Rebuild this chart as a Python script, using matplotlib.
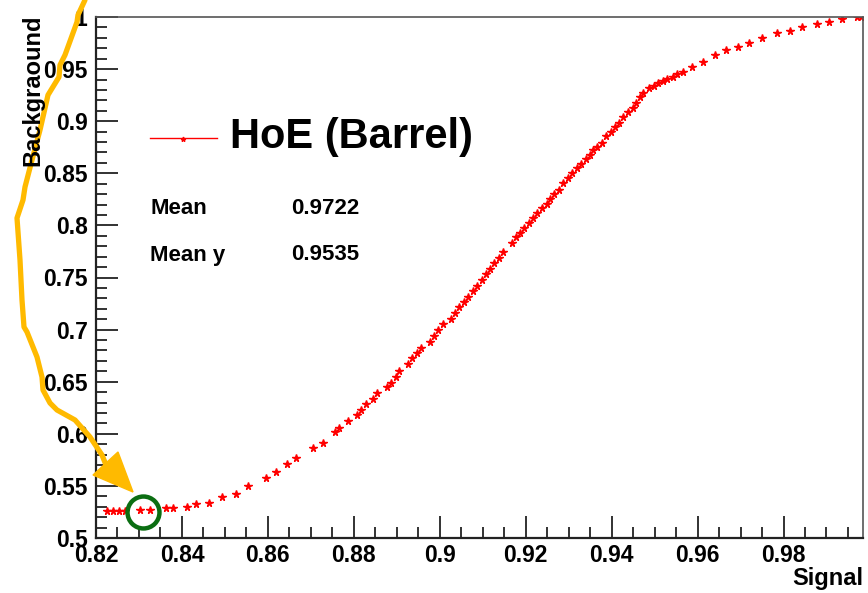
import numpy as np
import matplotlib
matplotlib.use("Agg")
import matplotlib.pyplot as plt
from matplotlib.ticker import MultipleLocator, FuncFormatter
from matplotlib.lines import Line2D
from matplotlib.patches import Polygon

signal = [0.8226, 0.8240, 0.8254, 0.8268, 0.8302, 0.8326, 0.8363, 0.8380,
          0.8412, 0.8433, 0.8463, 0.8493, 0.8525, 0.8553, 0.8595, 0.8620,
          0.8644, 0.8665, 0.8705, 0.8728, 0.8756, 0.8765, 0.8786, 0.8807,
          0.8816, 0.8828, 0.8844, 0.8854, 0.8877, 0.8886, 0.8898, 0.8905,
          0.8926, 0.8935, 0.8947, 0.8956, 0.8977, 0.8986, 0.8995, 0.9007,
          0.9026, 0.9035, 0.9044, 0.9056, 0.9065, 0.9077, 0.9086, 0.9098,
          0.9107, 0.9116, 0.9126, 0.9137, 0.9147, 0.9167, 0.9177, 0.9186,
          0.9195, 0.9207, 0.9216, 0.9226, 0.9237, 0.9249, 0.9256, 0.9267,
          0.9277, 0.9286, 0.9298, 0.9307, 0.9319, 0.9328, 0.9340, 0.9349,
          0.9356, 0.9367, 0.9377, 0.9388, 0.9398, 0.9407, 0.9416, 0.9426,
          0.9437, 0.9449, 0.9456, 0.9465, 0.9474, 0.9488, 0.9498, 0.9507,
          0.9519, 0.9530, 0.9542, 0.9551, 0.9565, 0.9588, 0.9612, 0.9640,
          0.9667, 0.9693, 0.9720, 0.9751, 0.9784, 0.9814, 0.9844, 0.9877,
          0.9907, 0.9937, 0.9970, 0.9980]
background = [0.526, 0.526, 0.526, 0.526, 0.527, 0.527, 0.529, 0.529,
              0.530, 0.5326, 0.5336, 0.539, 0.542, 0.550, 0.5576, 0.563,
              0.571, 0.5768, 0.5864, 0.591, 0.6017, 0.6056, 0.6123, 0.618,
              0.623, 0.6286, 0.6334, 0.639, 0.645, 0.6488, 0.6545, 0.660,
              0.667, 0.6727, 0.6775, 0.6823, 0.688, 0.6939, 0.6996, 0.7054,
              0.710, 0.716, 0.7217, 0.7265, 0.7313, 0.737, 0.7418, 0.7476,
              0.7534, 0.758, 0.764, 0.7687, 0.7745, 0.783, 0.789, 0.7927,
              0.7975, 0.8023, 0.807, 0.812, 0.8167, 0.8205, 0.8253, 0.830,
              0.834, 0.8407, 0.8455, 0.850, 0.855, 0.859, 0.8637, 0.8676,
              0.8724, 0.8752, 0.879, 0.8858, 0.890, 0.8944, 0.898, 0.904,
              0.9088, 0.9127, 0.9175, 0.9232, 0.927, 0.9318, 0.934, 0.9367,
              0.9386, 0.9405, 0.9424, 0.9453, 0.9472, 0.952, 0.9568, 0.9635,
              0.9683, 0.9712, 0.975, 0.980, 0.9846, 0.9866, 0.9904, 0.9933,
              0.9952, 0.998, 1.000, 1.000]

etiqueta = "HoE (Barrel)"
stats_nombres = ["Mean", "Mean y"]
stats_valores = ["0.9722", "0.9535"]
punto_marcado = (0.8309, 0.525)

W, H = 868, 593
fig = plt.figure(figsize=(W / 100, H / 100), dpi=100)
ax = fig.add_axes([96 / W, 1 - 538 / H, (863 - 96) / W, (538 - 17) / H])

def fx(px):
    return px / W

def fy(py):
    return 1 - py / H

fuente = ["Liberation Sans", "DejaVu Sans"]

ax.plot(signal, background, color="red", lw=0, marker="*", ms=5.5,
        markeredgewidth=1.0)
ax.set_xlim(0.82, 0.9985)
ax.set_ylim(0.5, 1.0)

ax.xaxis.set_major_locator(MultipleLocator(0.02))
ax.xaxis.set_minor_locator(MultipleLocator(0.005))
ax.yaxis.set_major_locator(MultipleLocator(0.05))
ax.yaxis.set_minor_locator(MultipleLocator(0.01))
fmt = FuncFormatter(lambda v, p: f"{v:.2f}".rstrip("0").rstrip(".") if v < 0.9999 else "1")
ax.xaxis.set_major_formatter(fmt)
ax.yaxis.set_major_formatter(fmt)
ax.tick_params(which="both", direction="in", top=False, right=False,
               width=1.3, color="#222222")
ax.tick_params(which="major", length=16)
ax.tick_params(which="minor", length=8)
ax.tick_params(axis="x", pad=4)
ax.tick_params(axis="y", pad=6)
for lab in ax.get_xticklabels() + ax.get_yticklabels():
    lab.set_fontfamily(fuente)
    lab.set_fontweight("bold")
    lab.set_fontsize(16.5)

for s in ["top", "right"]:
    ax.spines[s].set_color("#555555")
    ax.spines[s].set_linewidth(1.2)
for s in ["left", "bottom"]:
    ax.spines[s].set_color("#222222")
    ax.spines[s].set_linewidth(1.6)

# Títulos de ejes estilo ROOT
fig.text(fx(863), fy(578), "Signal", ha="right", va="center",
         fontsize=17, fontweight="bold", family=fuente)
fig.text(fx(33), fy(15), "Backgraound", ha="center", va="top", rotation=90,
         fontsize=17, fontweight="bold", family=fuente)

# Leyenda y estadísticas
fig.add_artist(Line2D([fx(150), fx(217)], [fy(138), fy(138)], color="red", lw=1))
fig.add_artist(Line2D([fx(183)], [fy(139)], color="red", marker="*", ms=3.5, lw=0))
fig.text(fx(230), fy(137), etiqueta, ha="left", va="center", fontsize=30,
         fontweight="bold", family=fuente)
for i, (n, v) in enumerate(zip(stats_nombres, stats_valores)):
    yy = fy(208 + i * 47)
    fig.text(fx(150), yy, n, ha="left", va="center", fontsize=16,
             fontweight="bold", family=fuente)
    fig.text(fx(291), yy, v, ha="left", va="center", fontsize=16,
             fontweight="bold", family=fuente)

# Flecha amarilla dibujada a mano
trazo_px = [(85, 0), (78, 15), (77, 22), (65, 55), (60, 65), (59, 77), (48, 95),
            (40, 130), (32, 160), (25, 187), (23, 200), (17, 218), (20, 260),
            (22, 300), (24, 327), (27, 332), (37, 357), (42, 377), (43, 390),
            (50, 403), (57, 410), (75, 420), (90, 437), (102, 455), (106, 465)]
fig.add_artist(Line2D([fx(p[0]) for p in trazo_px], [fy(p[1]) for p in trazo_px],
                      color="#FFBA00", lw=3.8, solid_capstyle="round",
                      solid_joinstyle="round"))
punta_px = [(93, 475), (118, 452), (133, 492)]
fig.add_artist(Polygon([(fx(a), fy(b)) for a, b in punta_px], closed=True,
                       facecolor="#FFBA00", edgecolor="#FFBA00", lw=1))

# Círculo verde sobre el punto inicial
ax.plot([punto_marcado[0]], [punto_marcado[1]], marker="o", ms=23, mfc="none",
        mec="#0B6E12", mew=3.2, clip_on=False)

fig.savefig("out.png", dpi=100, facecolor="white")
